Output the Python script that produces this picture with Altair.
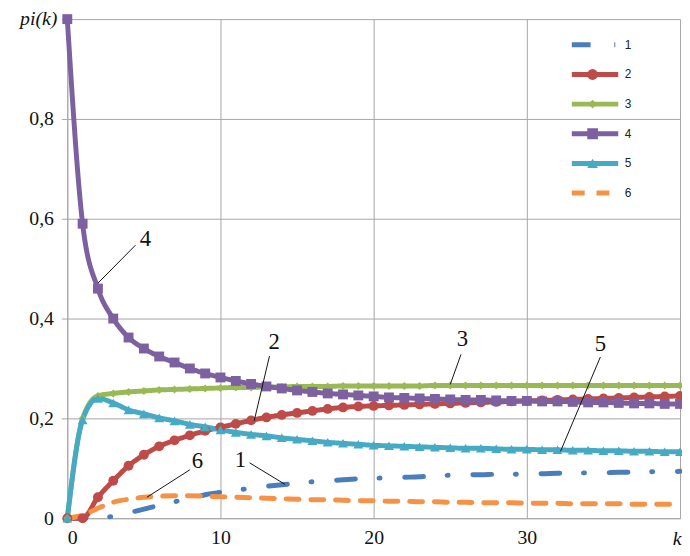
import altair as alt
import pandas as pd

k = list(range(41))
names = ["1", "2", "3", "4", "5", "6"]
marker_keys = ["m1", "m2", "m3", "m4", "m5", "m6"]
colors = ["#4A7EBB", "#BE4B48", "#98B954", "#7D60A0", "#46AAC5", "#F59245"]

s1 = [0, 0, 0, 0.004, 0.011, 0.018, 0.026, 0.033, 0.040, 0.047, 0.052, 0.056, 0.060, 0.064,
      0.067, 0.070, 0.073, 0.075, 0.077, 0.079, 0.080, 0.081, 0.082, 0.083, 0.085, 0.086,
      0.087, 0.087, 0.088, 0.088, 0.089, 0.089, 0.090, 0.090, 0.091, 0.091, 0.092, 0.092,
      0.093, 0.093, 0.094]
s2 = [0, 0, 0.042, 0.075, 0.105, 0.127, 0.144, 0.156, 0.166, 0.175, 0.182, 0.189, 0.196,
      0.202, 0.207, 0.211, 0.215, 0.219, 0.222, 0.224, 0.225, 0.226, 0.227, 0.228, 0.229,
      0.230, 0.231, 0.232, 0.233, 0.234, 0.235, 0.236, 0.237, 0.238, 0.239, 0.240, 0.241,
      0.242, 0.243, 0.244, 0.245]
s3 = [0, 0.200, 0.245, 0.250, 0.253, 0.255, 0.257, 0.258, 0.259, 0.260, 0.261, 0.262, 0.262,
      0.263, 0.263, 0.264, 0.264, 0.264, 0.265, 0.265, 0.265, 0.265, 0.265, 0.265, 0.266,
      0.266, 0.266, 0.266, 0.266, 0.266, 0.266, 0.266, 0.266, 0.266, 0.266, 0.266, 0.266,
      0.266, 0.266, 0.266, 0.266]
s4 = [1.0, 0.59, 0.46, 0.40, 0.362, 0.340, 0.324, 0.312, 0.300, 0.290, 0.282, 0.275, 0.269,
      0.264, 0.260, 0.256, 0.253, 0.250, 0.248, 0.246, 0.244, 0.242, 0.241, 0.240, 0.239,
      0.238, 0.237, 0.237, 0.236, 0.235, 0.235, 0.234, 0.234, 0.233, 0.232, 0.232, 0.231,
      0.230, 0.230, 0.229, 0.229]
s5 = [0, 0.197, 0.240, 0.231, 0.217, 0.209, 0.201, 0.195, 0.188, 0.183, 0.177, 0.172, 0.168,
      0.165, 0.161, 0.158, 0.155, 0.152, 0.150, 0.148, 0.146, 0.145, 0.144, 0.143, 0.142,
      0.141, 0.140, 0.140, 0.139, 0.138, 0.138, 0.137, 0.137, 0.136, 0.136, 0.135, 0.135,
      0.134, 0.134, 0.133, 0.133]
s6 = [0, 0.006, 0.020, 0.032, 0.038, 0.042, 0.044, 0.045, 0.045, 0.044, 0.043, 0.042, 0.041,
      0.040, 0.039, 0.038, 0.037, 0.037, 0.036, 0.035, 0.035, 0.034, 0.034, 0.033, 0.033,
      0.032, 0.032, 0.031, 0.031, 0.031, 0.030, 0.030, 0.030, 0.029, 0.029, 0.029, 0.029,
      0.028, 0.028, 0.028, 0.028]

# callout annotations
ann_label = ["4", "2", "3", "5", "6", "1"]
ann_tx = [5.1, 13.5, 25.8, 34.8, 8.5, 11.3]
ann_ty = [0.560, 0.352, 0.358, 0.349, 0.115, 0.117]
ann_x0 = [4.45, 13.2, 25.7, 34.8, 8.0, 11.9]
ann_y0 = [0.547, 0.325, 0.328, 0.323, 0.097, 0.111]
ann_x1 = [2.0, 12.2, 25.0, 32.2, 5.2, 14.2]
ann_y1 = [0.471, 0.195, 0.268, 0.134, 0.042, 0.068]

# axis end titles (placed at the end tick of each axis)
end_label = ["pi(k)", "k"]
end_x = [0, 40]
end_y = [1.0, 0]

rows = []
for nm, mk, vals in zip(names, marker_keys, [s1, s2, s3, s4, s5, s6]):
    for kk, v in zip(k, vals):
        rows.append({"k": kk, "p": v, "series": nm, "marker": mk})
df = pd.DataFrame(rows)
df_pts = df[df["series"].isin(["2", "3", "4", "5"])]

ann = pd.DataFrame({"label": ann_label, "tx": ann_tx, "ty": ann_ty,
                    "x0": ann_x0, "y0": ann_y0, "x1": ann_x1, "y1": ann_y1})
ends = pd.DataFrame({"label": end_label, "ex": end_x, "ey": end_y})

serif = "Liberation Serif"
sans = "Liberation Sans"

xscale = alt.Scale(domain=[0, 40], nice=False)
yscale = alt.Scale(domain=[0, 1], nice=False)

xaxis = alt.Axis(values=[0, 10, 20, 30, 40], title=None, grid=True, gridColor="#a6a6a6",
                 domainColor="#a6a6a6", ticks=False, labelFont=serif, labelFontSize=20,
                 labelColor="#111111", labelPadding=10,
                 labelExpr="datum.value == 40 ? '' : datum.label")
yaxis = alt.Axis(values=[0, 0.2, 0.4, 0.6, 0.8, 1.0], title=None, grid=True, gridColor="#a6a6a6",
                 domainColor="#a6a6a6", tickColor="#a6a6a6", tickSize=6, labelFont=serif,
                 labelFontSize=20, labelColor="#111111", labelPadding=8,
                 labelExpr="datum.value == 1 ? '' : replace(format(datum.value, '.1~f'), '.', ',')")

line_legend = alt.Legend(orient="none", legendX=508, legendY=16, title=None,
                         symbolType="stroke", symbolSize=2209, symbolStrokeWidth=5,
                         clipHeight=20, rowPadding=10, padding=0, labelFont=sans,
                         labelFontSize=12, labelColor="#222222", labelOffset=4)
pt_legend = alt.Legend(orient="none", legendX=526, legendY=16, title=None,
                       clipHeight=20, rowPadding=10, padding=0, labelExpr="''",
                       symbolSize=120, symbolStrokeWidth=0, symbolOpacity=1)

diamond = "M0,-0.8L0.8,0L0,0.8L-0.8,0Z"
shapes = ["M0,0", "circle", diamond, "square", "triangle-up", "M0,0"]

lines = alt.Chart(df).mark_line(strokeWidth=5, strokeCap="round", strokeJoin="round",
                                interpolate="monotone").encode(
    x=alt.X("k:Q", scale=xscale, axis=xaxis),
    y=alt.Y("p:Q", scale=yscale, axis=yaxis),
    color=alt.Color("series:N", scale=alt.Scale(domain=names, range=colors), legend=line_legend),
    strokeDash=alt.StrokeDash("series:N",
                              scale=alt.Scale(domain=names,
                                              range=[[19, 24, 1, 25], [1, 0], [1, 0], [1, 0],
                                                     [1, 0], [13, 12]]),
                              legend=line_legend),
)

points = alt.Chart(df_pts).mark_point(filled=True, opacity=1, size=100, strokeWidth=0).encode(
    x=alt.X("k:Q", scale=xscale, axis=xaxis),
    y=alt.Y("p:Q", scale=yscale, axis=yaxis),
    fill=alt.Fill("marker:N", scale=alt.Scale(domain=marker_keys, range=colors), legend=pt_legend),
    shape=alt.Shape("marker:N", scale=alt.Scale(domain=marker_keys, range=shapes), legend=pt_legend),
)

leaders = alt.Chart(ann).mark_rule(color="#111111", strokeWidth=1).encode(
    x=alt.X("x0:Q", scale=xscale, axis=xaxis),
    y=alt.Y("y0:Q", scale=yscale, axis=yaxis),
    x2="x1:Q",
    y2="y1:Q",
)

texts = alt.Chart(ann).mark_text(font=serif, fontSize=23, color="#111111",
                                 baseline="middle", align="center").encode(
    x=alt.X("tx:Q", scale=xscale, axis=xaxis),
    y=alt.Y("ty:Q", scale=yscale, axis=yaxis),
    text="label:N",
)

ytitle = alt.Chart(ends[ends["label"] == "pi(k)"]).mark_text(
    font=serif, fontSize=20, fontStyle="italic", color="#111111",
    align="right", baseline="middle", dx=-10).encode(
    x=alt.X("ex:Q", scale=xscale, axis=xaxis),
    y=alt.Y("ey:Q", scale=yscale, axis=yaxis),
    text="label:N",
)
xtitle = alt.Chart(ends[ends["label"] == "k"]).mark_text(
    font=serif, fontSize=20, fontStyle="italic", color="#111111",
    align="center", baseline="top", dy=11, dx=-3).encode(
    x=alt.X("ex:Q", scale=xscale, axis=xaxis),
    y=alt.Y("ey:Q", scale=yscale, axis=yaxis),
    text="label:N",
)

chart = alt.layer(lines, points, leaders, texts, ytitle, xtitle).properties(
    width=620, height=505,
    padding={"left": 60, "top": 8, "right": 2, "bottom": 35},
    autosize=alt.AutoSizeParams(type="none"),
    background="white",
).configure_view(stroke=None).configure_axis(labelFont=serif)

chart.save("out.html", embed_options={"renderer": "svg", "actions": False})
